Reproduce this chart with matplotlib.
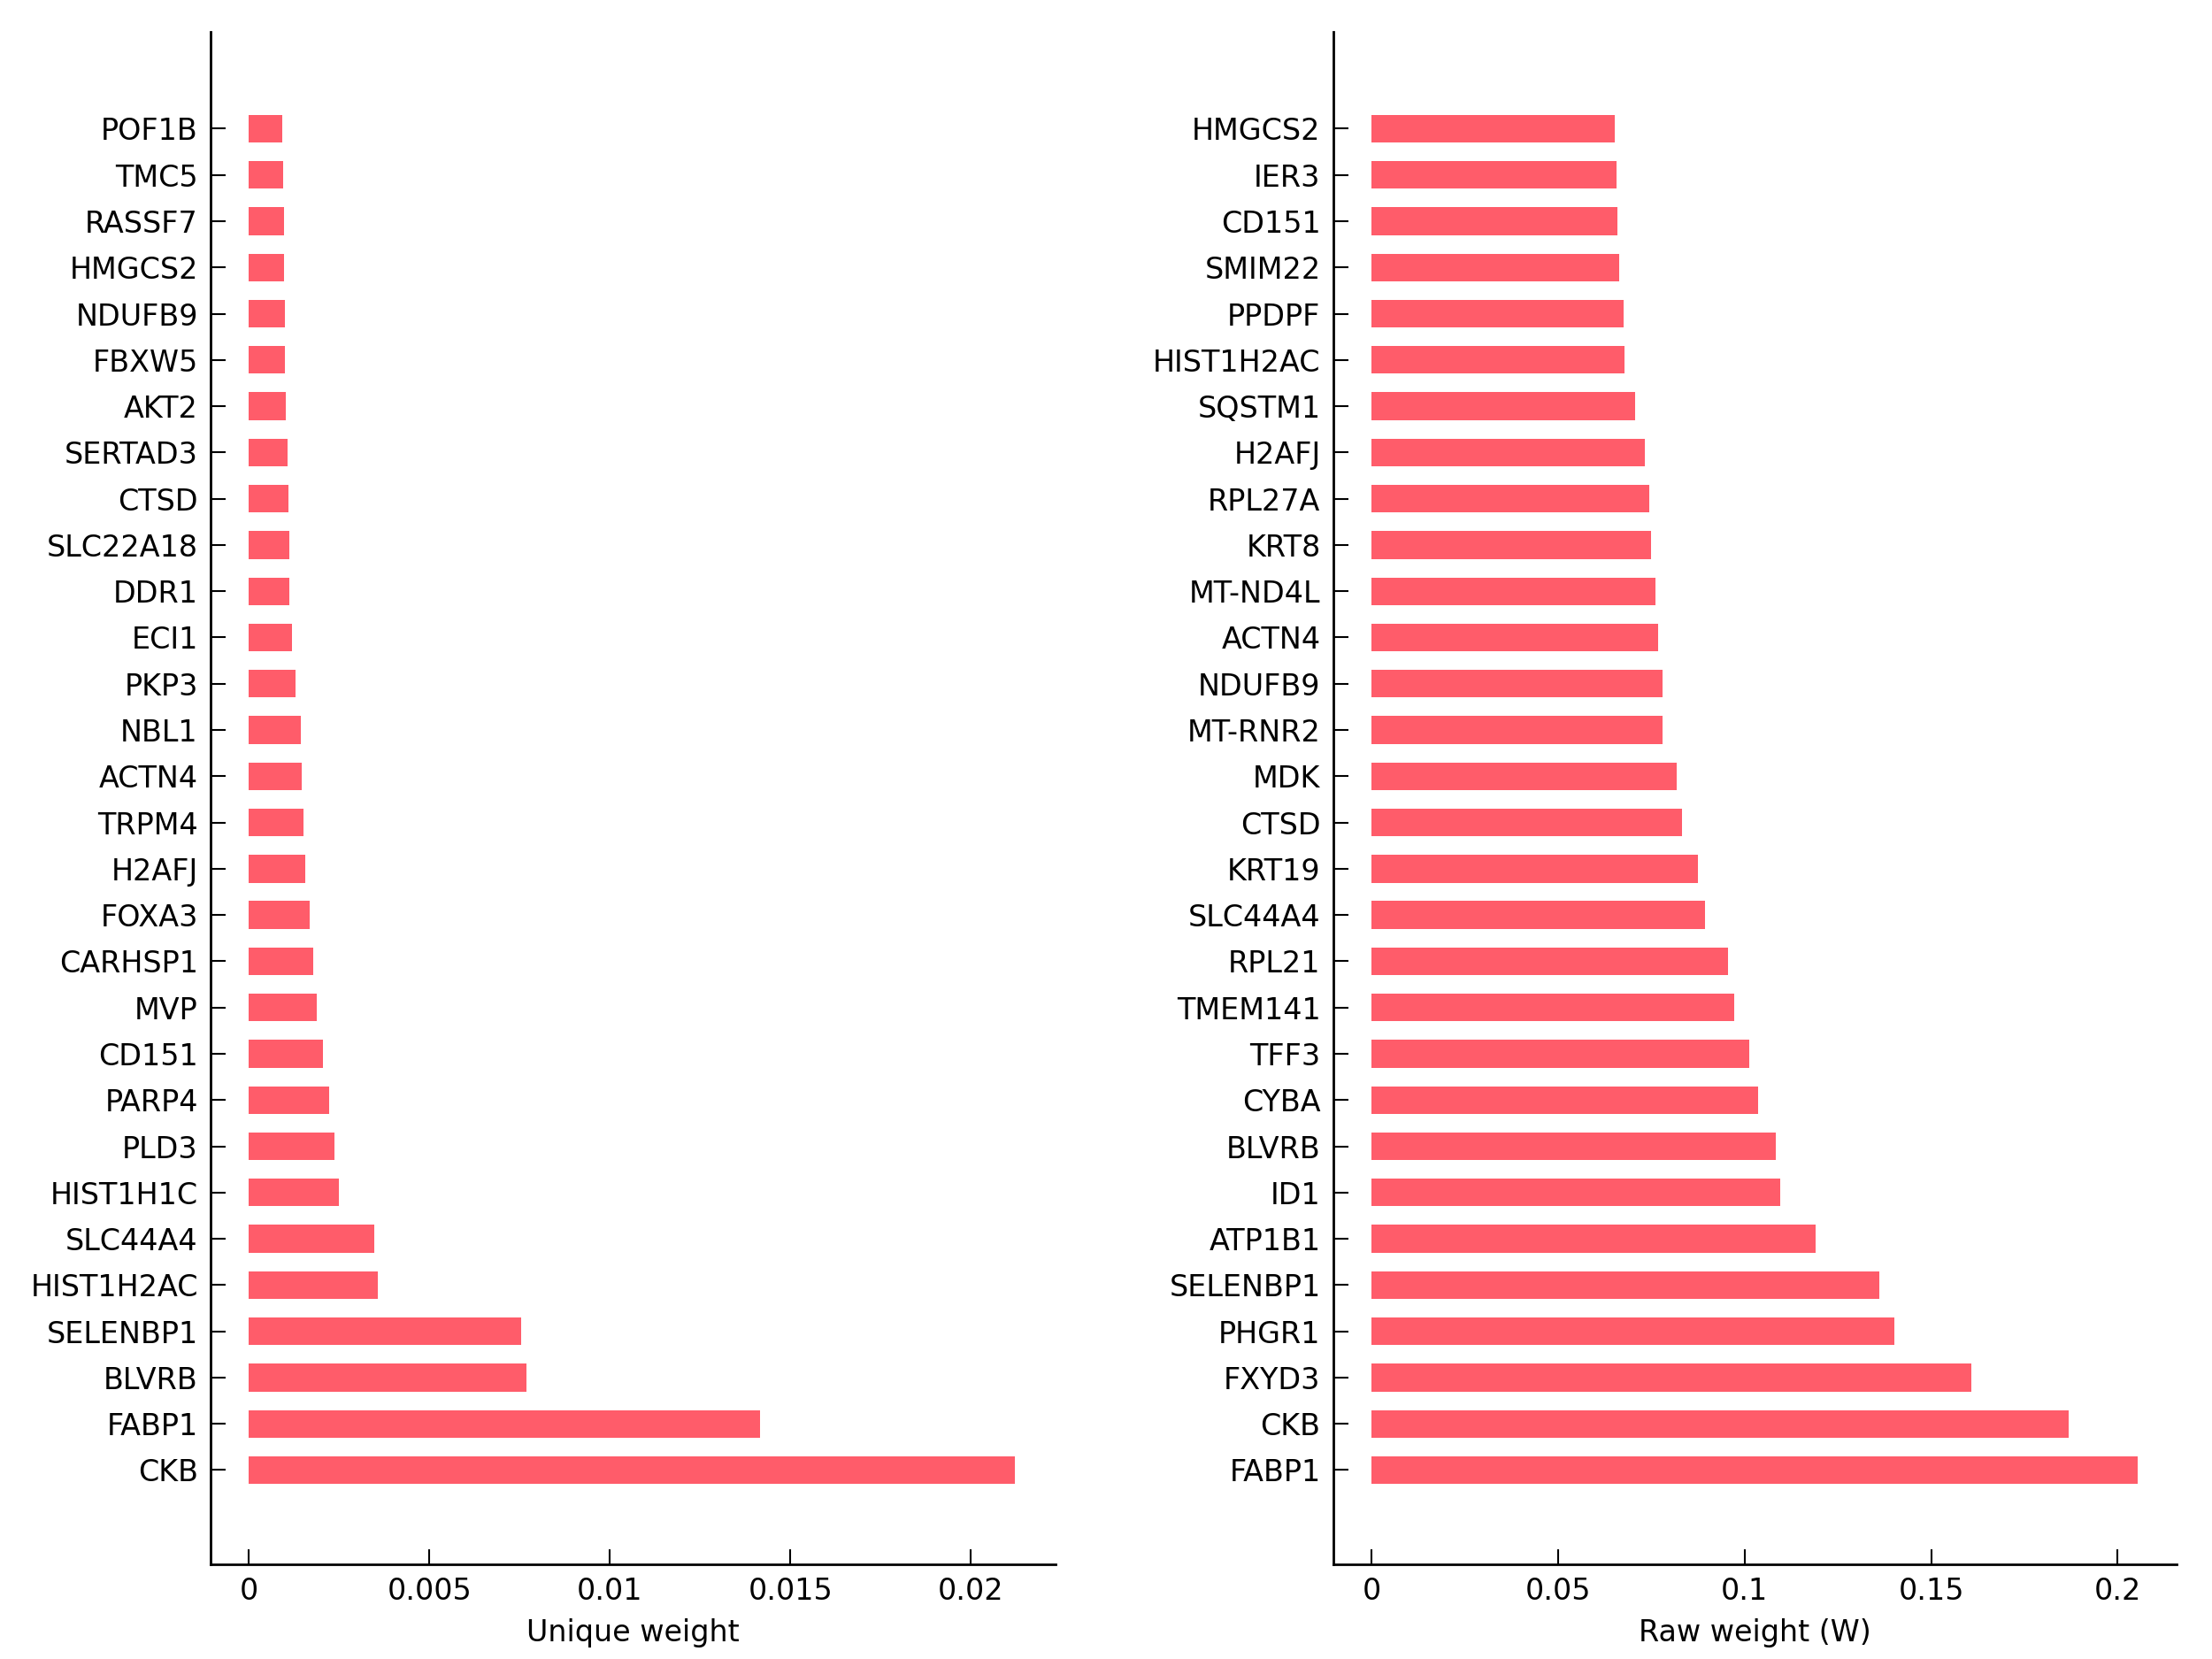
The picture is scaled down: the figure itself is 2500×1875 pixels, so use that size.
import matplotlib
matplotlib.use("Agg")
import matplotlib.pyplot as plt
import numpy as np

plt.rcParams['font.family'] = ['DejaVu Sans']

# left panel: unique weight (top to bottom)
unique_genes = ["POF1B", "TMC5", "RASSF7", "HMGCS2", "NDUFB9", "FBXW5", "AKT2",
                "SERTAD3", "CTSD", "SLC22A18", "DDR1", "ECI1", "PKP3", "NBL1",
                "ACTN4", "TRPM4", "H2AFJ", "FOXA3", "CARHSP1", "MVP", "CD151",
                "PARP4", "PLD3", "HIST1H1C", "SLC44A4", "HIST1H2AC", "SELENBP1",
                "BLVRB", "FABP1", "CKB"]
unique_vals = [0.00091, 0.00095, 0.00096, 0.00098, 0.00099, 0.00099, 0.00101,
               0.00106, 0.00110, 0.00111, 0.00112, 0.00120, 0.00130, 0.00143,
               0.00146, 0.00150, 0.00155, 0.00167, 0.00179, 0.00187, 0.00206,
               0.00222, 0.00238, 0.00248, 0.00346, 0.00357, 0.00754,
               0.00769, 0.01417, 0.02122]

# right panel: raw weight (top to bottom)
raw_genes = ["HMGCS2", "IER3", "CD151", "SMIM22", "PPDPF", "HIST1H2AC", "SQSTM1",
             "H2AFJ", "RPL27A", "KRT8", "MT-ND4L", "ACTN4", "NDUFB9", "MT-RNR2",
             "MDK", "CTSD", "KRT19", "SLC44A4", "RPL21", "TMEM141", "TFF3",
             "CYBA", "BLVRB", "ID1", "ATP1B1", "SELENBP1", "PHGR1", "FXYD3",
             "CKB", "FABP1"]
raw_vals = [0.0653, 0.0656, 0.0660, 0.0664, 0.0676, 0.0678, 0.0706,
            0.0733, 0.0745, 0.0749, 0.0760, 0.0768, 0.0779, 0.0780,
            0.0818, 0.0833, 0.0875, 0.0894, 0.0956, 0.0971, 0.1013,
            0.1036, 0.1083, 0.1096, 0.1191, 0.1362, 0.1401, 0.1607,
            0.1869, 0.2053]

bar_color = '#ff5c6a'

fig = plt.figure(figsize=(10, 7.5), dpi=250)
ax1 = fig.add_axes([0.0951, 0.057, 0.382, 0.924])
ax2 = fig.add_axes([0.6026, 0.057, 0.3812, 0.924])


def draw(ax, genes, vals, xlim, ticks, ticklabels, xlabel):
    n = len(genes)
    pos = np.arange(n, 0, -1)
    ax.barh(pos, vals, height=0.6, color=bar_color)
    ax.set_yticks(pos)
    ax.set_yticklabels(genes)
    ax.set_ylim(-1.04, n + 2.1)
    ax.set_xlim(*xlim)
    ax.set_xticks(ticks)
    ax.set_xticklabels(ticklabels)
    ax.set_xlabel(xlabel, fontsize=9.6, labelpad=4)
    ax.spines['top'].set_visible(False)
    ax.spines['right'].set_visible(False)
    ax.spines['left'].set_linewidth(0.8)
    ax.spines['bottom'].set_linewidth(0.8)
    ax.tick_params(axis='both', direction='in', length=5, width=0.6,
                   labelsize=9.6, pad=4)


draw(ax1, unique_genes, unique_vals, (-0.00107, 0.02234),
     [0, 0.005, 0.01, 0.015, 0.02], ["0", "0.005", "0.01", "0.015", "0.02"],
     "Unique weight")
draw(ax2, raw_genes, raw_vals, (-0.01036, 0.2157),
     [0, 0.05, 0.1, 0.15, 0.2], ["0", "0.05", "0.1", "0.15", "0.2"],
     "Raw weight (W)")

fig.savefig("out.png", dpi=250)
